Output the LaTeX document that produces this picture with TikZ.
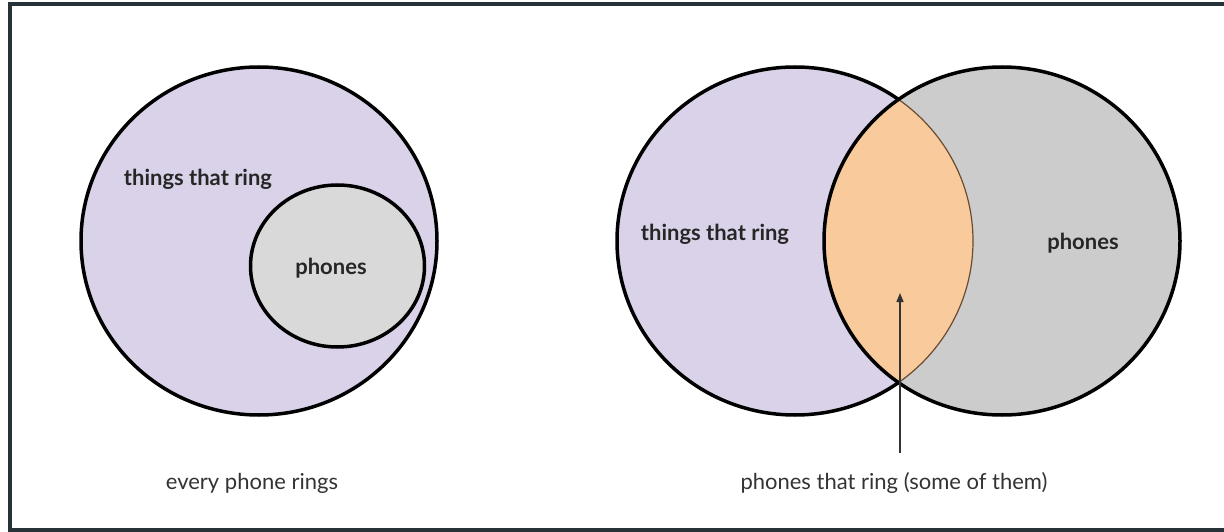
\documentclass[tikz,border=0pt]{standalone}
\usepackage{fontspec}
\setmainfont{Lato}
\usetikzlibrary{arrows.meta}
\definecolor{lilas}{HTML}{D9D2E9}
\definecolor{grisclair}{HTML}{D9D9D9}
\definecolor{grisfonce}{HTML}{CCCCCC}
\definecolor{peche}{HTML}{F9CB9C}
\definecolor{brun}{HTML}{6B4A2E}
\definecolor{cadre}{HTML}{263238}
\begin{document}
\begin{tikzpicture}[x=1pt,y=-1pt,font=\fontsize{22}{26}\selectfont,
  rond/.style={draw=black,line width=3.5pt},
  titre/.style={font=\fontsize{22}{26}\selectfont\bfseries,text=black!85},
  legende/.style={text=black!80},
  fleche/.style={-{Triangle[length=9pt,width=7pt]},line width=1.4pt,draw=black!80}]
\useasboundingbox (0,0) rectangle (1224,532);
\draw[cadre,line width=4pt] (1230,4.5) -- (9.5,4.5) -- (9.5,529.5) -- (1230,529.5);
\def\rx{178pt}
\def\ry{174pt}
\filldraw[rond,fill=lilas] (259,241) ellipse [x radius=\rx,y radius=\ry];
\filldraw[rond,fill=grisclair] (337.5,266) ellipse [x radius=87pt,y radius=81pt];
\node[titre] (sonneA) at (198,179) {things that ring};
\node[titre] (telA) at (331,268) {phones};
\node[legende] (legA) at (252,483) {every phone rings};
\filldraw[rond,fill=lilas] (795,241) ellipse [x radius=\rx,y radius=\ry];
\fill[grisfonce] (1002,241) ellipse [x radius=\rx,y radius=\ry];
\begin{scope}
  \clip (795,241) ellipse [x radius=\rx,y radius=\ry];
  \fill[peche] (1002,241) ellipse [x radius=\rx,y radius=\ry];
\end{scope}
\begin{scope}
  \clip (1002,241) ellipse [x radius=\rx,y radius=\ry];
  \draw[brun,line width=1.2pt] (795,241) ellipse [x radius=\rx,y radius=\ry];
\end{scope}
\draw[rond] (1002,241) ellipse [x radius=\rx,y radius=\ry];
\node[titre] (sonneB) at (715,234) {things that ring};
\node[titre] (telB) at (1083,243) {phones};
\node[legende] (legB) at (894,483) {phones that ring (some of them)};
\coordinate (pointe) at (900,293);
\draw[fleche,shorten <=16pt] (legB.north -| pointe) -- (pointe);
\end{tikzpicture}
\end{document}
